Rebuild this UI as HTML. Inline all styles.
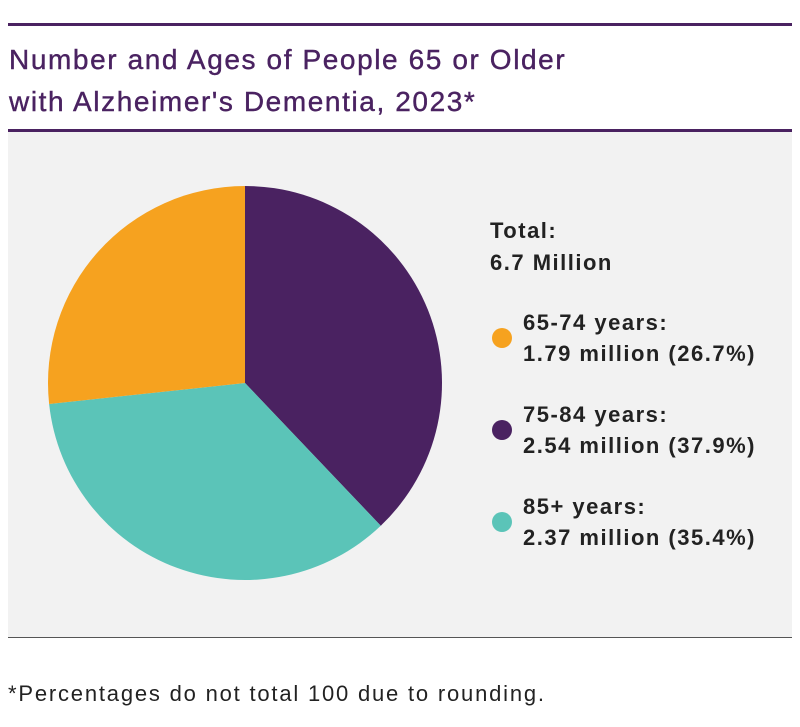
<!DOCTYPE html>
<html><head><meta charset="utf-8"><style>
body{margin:0;width:800px;height:727px;background:#fff;font-family:"Liberation Sans",sans-serif;position:relative;overflow:hidden}
.abs{position:absolute}
.title{left:9px;top:39px;color:#4a2261;font-size:28px;line-height:42px;letter-spacing:1.6px;-webkit-text-stroke:0.4px #4a2261}
</style></head><body>
<div class="abs" style="left:8px;top:23px;width:784px;height:3px;background:#4a2261"></div>
<div class="abs title">Number and Ages of People 65 or Older<br>with Alzheimer's Dementia, 2023*</div>
<div class="abs" style="left:8px;top:129px;width:784px;height:3px;background:#4a2261"></div>
<div class="abs" style="left:8px;top:132px;width:784px;height:505px;background:#f2f2f2;border-bottom:1px solid #555"></div>
<svg class="abs" style="left:0;top:0" width="800" height="727">
<g id="pie"></g>
<text x="490" y="238" font-weight="bold" font-size="22" letter-spacing="1.5" fill="#222" font-family="Liberation Sans">Total:</text>
<text x="490" y="270" font-weight="bold" font-size="22" letter-spacing="1.5" fill="#222" font-family="Liberation Sans">6.7 Million</text>
<g id="legend"></g>
</svg>
<div class="abs" style="left:8px;top:681px;font-size:22px;letter-spacing:1.8px;color:#222">*Percentages do not total 100 due to rounding.</div>
<script>
const labels=["75-84 years:","85+ years:","65-74 years:"];
const values=[37.9,35.4,26.7];
const millions=["2.54","2.37","1.79"];
const colors=["#4a2261","#5bc4b8","#f6a21f"];
const legendOrder=[2,0,1];
const cx=245,cy=383,r=197,ns="http://www.w3.org/2000/svg";
const total=values.reduce((a,b)=>a+b,0);
let a0=0;
const pie=document.getElementById('pie');
values.forEach((v,i)=>{
 const a1=a0+v/total*2*Math.PI;
 const p=t=>[cx+r*Math.sin(t),cy-r*Math.cos(t)];
 const [x0,y0]=p(a0),[x1,y1]=p(a1);
 const el=document.createElementNS(ns,'path');
 el.setAttribute('d',`M${cx},${cy}L${x0},${y0}A${r},${r} 0 ${a1-a0>Math.PI?1:0} 1 ${x1},${y1}Z`);
 el.setAttribute('fill',colors[i]);
 
 
 pie.appendChild(el);a0=a1;
});
const lg=document.getElementById('legend');
legendOrder.forEach((i,k)=>{
 const y=338+k*92;
 const c=document.createElementNS(ns,'circle');
 c.setAttribute('cx',502);c.setAttribute('cy',y);c.setAttribute('r',10);c.setAttribute('fill',colors[i]);
 
 
 lg.appendChild(c);
 [[labels[i],y-8],[millions[i]+" million ("+values[i]+"%)",y+23]].forEach(([t,yy])=>{
  const tx=document.createElementNS(ns,'text');
  tx.setAttribute('x',523);tx.setAttribute('y',yy);tx.setAttribute('font-size',22);tx.setAttribute('font-weight','bold');
  tx.setAttribute('letter-spacing','1.5');
  tx.setAttribute('fill','#222');tx.setAttribute('font-family','Liberation Sans');
  tx.textContent=t;
  
  
  lg.appendChild(tx);
 });
});
</script>
</body></html>
